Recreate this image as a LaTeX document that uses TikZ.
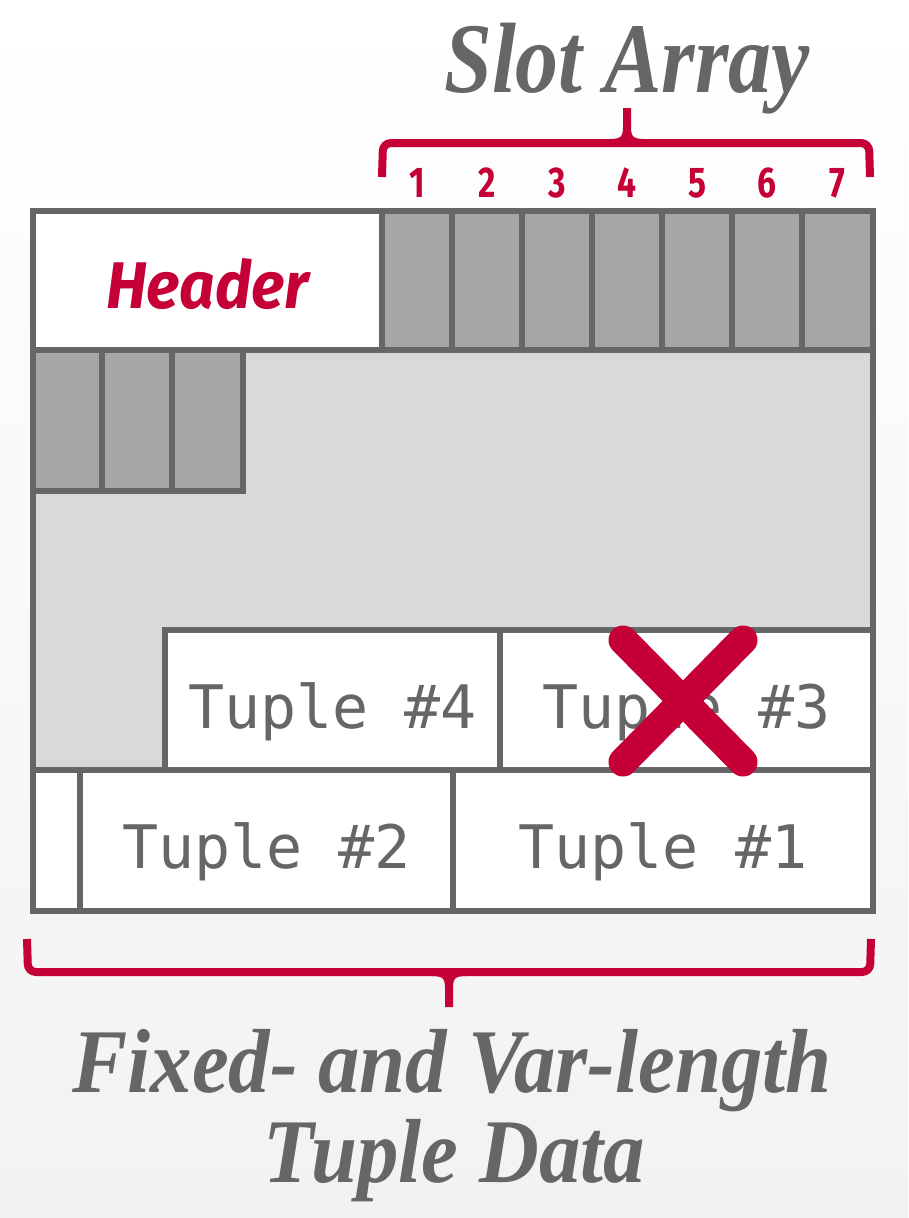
\documentclass[tikz,border=0pt]{standalone}
\usepackage{fontspec}
\usepackage{graphicx}
\newfontfamily\titlefont{Liberation Serif}
\newfontfamily\labelfont{Fira Sans}
\newfontfamily\tuplefont{DejaVu Sans Mono}
\definecolor{framegray}{HTML}{666666}
\definecolor{slotgray}{HTML}{A6A6A6}
\definecolor{freegray}{HTML}{D9D9D9}
\definecolor{dbred}{RGB}{196,0,55}
\definecolor{pagegray}{HTML}{F2F2F2}
\newcommand{\squeeze}[1]{\scalebox{0.78}[1]{#1}}
\tikzset{
	slot/.style={draw=framegray, fill=slotgray, line width=6pt, minimum width=70pt, minimum height=140pt, inner sep=0pt},
	tuple/.style={draw=framegray, fill=white, line width=6pt, minimum height=140pt, inner sep=0pt, text=framegray, font=\tuplefont\fontsize{60}{60}\selectfont, text height=56pt, text depth=0pt},
	slotnum/.style={text=dbred, font=\labelfont\bfseries\fontsize{43}{43}\selectfont, anchor=base, inner sep=0pt},
	title/.style={text=framegray, font=\titlefont\bfseries\itshape\fontsize{100}{100}\selectfont, anchor=base, inner sep=0pt},
	brace/.style={draw=dbred, line width=8pt, rounded corners=8pt}
}
\begin{document}
\begin{tikzpicture}[x=1pt,y=-1pt]
	\useasboundingbox (0,0) rectangle (908,1218);
	\shade[shading angle=45, top color=white, bottom color=pagegray] (0,0) rectangle (908,1218);
	\fill[freegray] (33,350) rectangle (873,770);
	
	\draw (207.5,280.5) node[tuple, minimum width=349pt, minimum height=139pt, text=dbred, text height=55pt, font=\labelfont\bfseries\itshape\fontsize{66}{66}\selectfont] (header) {\scalebox{0.94}[1]{Header}};
	\draw (417,280.5) node[slot, minimum height=139pt] (s1) {};
	\draw (487,280.5) node[slot, minimum height=139pt] (s2) {};
	\draw (557,280.5) node[slot, minimum height=139pt] (s3) {};
	\draw (627,280.5) node[slot, minimum height=139pt] (s4) {};
	\draw (697,280.5) node[slot, minimum height=139pt] (s5) {};
	\draw (767,280.5) node[slot, minimum height=139pt] (s6) {};
	\draw (837.5,280.5) node[slot, minimum height=139pt, minimum width=71pt] (s7) {};
	\draw (67.5,420.5) node[slot, minimum width=69pt, minimum height=141pt] (s8) {};
	\draw (137,420.5) node[slot, minimum height=141pt] (s9) {};
	\draw (207.5,420.5) node[slot, minimum width=71pt, minimum height=141pt] (s10) {};
	
	\draw (332.5,700) node[tuple, minimum width=335pt] (t4) {Tuple \#4};
	\draw (686.5,700) node[tuple, minimum width=373pt] (t3) {Tuple \#3};
	\draw (56.5,840.5) node[tuple, minimum width=47pt, minimum height=141pt] (gap) {};
	\draw (266.5,840.5) node[tuple, minimum width=373pt, minimum height=141pt] (t2) {Tuple \#2};
	\draw (663,840.5) node[tuple, minimum width=420pt, minimum height=141pt] (t1) {Tuple \#1};
	\draw[framegray, line width=6pt] (33,211) rectangle (873,911);
	
	\draw[dbred, line width=29pt, line cap=round] (623,640) -- (743,762) (743,640) -- (623,762);
	
	\draw (s1.north) node[slotnum, yshift=11pt] (n1) {\squeeze{1}};
	\draw (s2.north) node[slotnum, yshift=11pt] (n2) {\squeeze{2}};
	\draw (s3.north) node[slotnum, yshift=11pt] (n3) {\squeeze{3}};
	\draw (s4.north) node[slotnum, yshift=11pt] (n4) {\squeeze{4}};
	\draw (s5.north) node[slotnum, yshift=11pt] (n5) {\squeeze{5}};
	\draw (s6.north) node[slotnum, yshift=11pt] (n6) {\squeeze{6}};
	\draw (s7.north) node[slotnum, yshift=11pt] (n7) {\squeeze{7}};
	
	\draw[brace] (382,177) -- (383,143) -- (869,143) -- (870,177);
	\draw[brace, rounded corners=0pt] (610,143) .. controls (623,143) and (627,139) .. (627,127) -- (627,108);
	\draw[brace, rounded corners=0pt] (644,143) .. controls (631,143) and (627,139) .. (627,127);
	\draw (627,92) node[title] (slotarray) {\scalebox{0.86}[1]{Slot Array}};
	
	\draw[brace] (27,939) -- (28,972) -- (870,972) -- (871,939);
	\draw[brace, rounded corners=0pt] (432,972) .. controls (445,972) and (449,976) .. (449,988) -- (449,1007);
	\draw[brace, rounded corners=0pt] (466,972) .. controls (453,972) and (449,976) .. (449,988);
	\draw (452,1092) node[title, font=\titlefont\bfseries\itshape\fontsize{91}{91}\selectfont] (datatitle) {\scalebox{0.91}[1]{Fixed- and Var-length}};
	\draw (454.5,1182) node[title, font=\titlefont\bfseries\itshape\fontsize{91}{91}\selectfont] (datatitleb) {\scalebox{0.91}[1]{Tuple Data}};
\end{tikzpicture}
\end{document}
